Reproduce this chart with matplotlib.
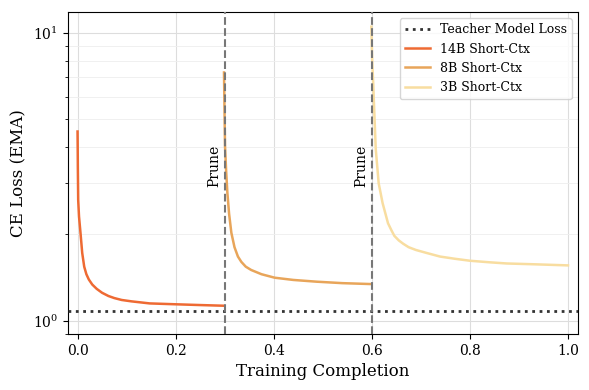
import matplotlib
matplotlib.use("Agg")
import matplotlib.pyplot as plt
import numpy as np

plt.rcParams['font.family'] = 'DejaVu Serif'
plt.rcParams['mathtext.fontset'] = 'dejavuserif'

# values (training completion, CE loss EMA)
x_14b = [0.0, 0.0003, 0.0006, 0.0013, 0.003, 0.006, 0.0095, 0.0136, 0.018, 0.023, 0.03, 0.039,
         0.05, 0.063, 0.075, 0.09, 0.11, 0.147, 0.2, 0.25, 0.297]
y_14b = [4.54, 4.0, 3.4, 2.63, 2.3, 2.02, 1.72, 1.54, 1.45, 1.39, 1.335, 1.29,
         1.25, 1.218, 1.198, 1.18, 1.167, 1.148, 1.14, 1.133, 1.127]

x_8b = [0.2986, 0.299, 0.2995, 0.3007, 0.303, 0.3055, 0.309, 0.3136, 0.32, 0.327, 0.334, 0.343,
        0.354, 0.375, 0.402, 0.44, 0.487, 0.54, 0.599]
y_8b = [7.28, 6.5, 5.6, 4.03, 3.3, 2.78, 2.35, 2.02, 1.8, 1.67, 1.6, 1.54,
        1.50, 1.45, 1.41, 1.385, 1.366, 1.35, 1.34]

x_3b = [0.599, 0.600, 0.601, 0.603, 0.604, 0.608, 0.614, 0.622, 0.633, 0.640, 0.646, 0.655,
        0.664, 0.675, 0.69, 0.711, 0.739, 0.77, 0.8, 0.84, 0.875, 0.93, 1.0]
y_3b = [10.5, 9.0, 7.8, 6.6, 5.9, 3.95, 3.0, 2.56, 2.18, 2.06, 1.97, 1.90,
        1.85, 1.80, 1.76, 1.72, 1.67, 1.64, 1.615, 1.595, 1.58, 1.57, 1.556]

teacher_loss = 1.08
prune_points = [0.3, 0.6]

fig, ax = plt.subplots(figsize=(5.89, 3.9), dpi=100)
fig.subplots_adjust(left=0.115, right=0.981, top=0.969, bottom=0.144)

ax.axhline(teacher_loss, color='#333333', linestyle=':', linewidth=2, label='Teacher Model Loss', zorder=3)
ax.plot(x_14b, y_14b, color='#EE6A33', linewidth=1.8, label='14B Short-Ctx')
ax.plot(x_8b, y_8b, color='#E8A55A', linewidth=1.8, label='8B Short-Ctx')
ax.plot(x_3b, y_3b, color='#F8DDA0', linewidth=1.8, label='3B Short-Ctx')

for p in prune_points:
    ax.axvline(p, color='#777777', linestyle='--', linewidth=1.5, zorder=4)
    ax.text(p - 0.007, 3.45, 'Prune', rotation=90, ha='right', va='center', fontsize=10)

ax.set_yscale('log')
ax.set_xlim(-0.02, 1.02)
ax.set_ylim(0.9, 11.8)
ax.set_xticks(np.arange(0, 1.01, 0.2))
ax.grid(True, which='major', color='#dddddd', linewidth=0.8)
ax.grid(True, which='minor', axis='y', color='#eeeeee', linewidth=0.6)
ax.set_axisbelow(True)

ax.set_xlabel('Training Completion', fontsize=12)
ax.set_ylabel('CE Loss (EMA)', fontsize=12)
ax.tick_params(labelsize=10)
ax.legend(loc='upper right', fontsize=9)

plt.savefig('out.png', dpi=100)
